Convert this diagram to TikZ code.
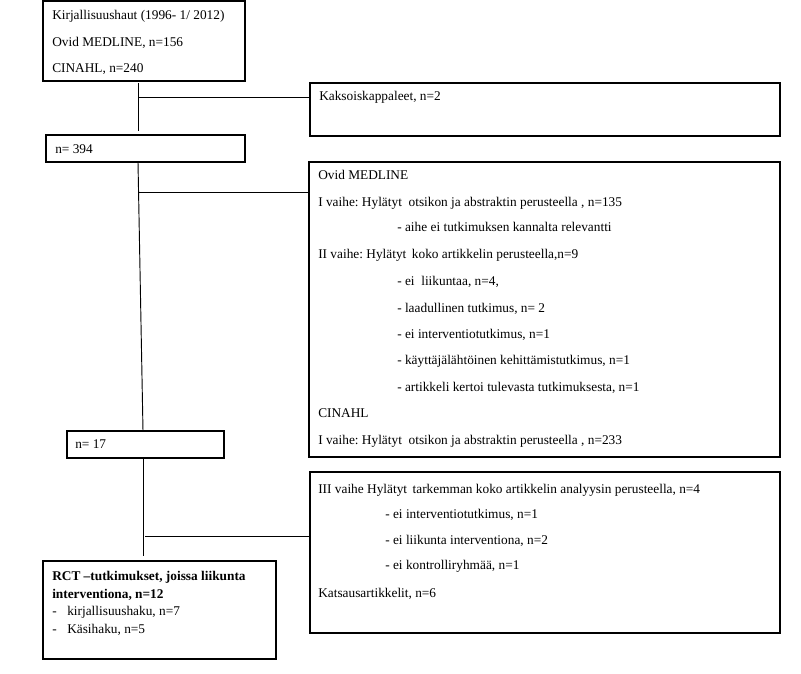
\documentclass[tikz,border=0pt]{standalone}
\usepackage{fontspec}
\setmainfont{Liberation Serif}
\frenchspacing
\begin{document}
\begin{tikzpicture}[x=0.75pt,y=-0.75pt,
  box/.style={draw, line width=0.8pt, anchor=north west, inner sep=0pt, outer sep=0pt},
  txt/.style={anchor=base west, inner sep=0pt, font=\fontsize{10}{11}\selectfont},
  bld/.style={anchor=base west, inner sep=0pt, font=\fontsize{10}{12}\selectfont\bfseries},
  ln/.style={line width=0.7pt}]
\useasboundingbox (0,0) rectangle (801,674);
% boxes
\node[box, minimum width={202*0.75pt}, minimum height={80*0.75pt}] (b1) at (43,1) {};
\node[box, minimum width={199*0.75pt}, minimum height={27*0.75pt}] (b2) at (46,135) {};
\node[box, minimum width={470*0.75pt}, minimum height={53*0.75pt}] (kaks) at (310,83) {};
\node[box, minimum width={471*0.75pt}, minimum height={295*0.75pt}] (ovid) at (309,162) {};
\node[box, minimum width={157*0.75pt}, minimum height={27*0.75pt}] (b3) at (67,431) {};
\node[box, minimum width={470*0.75pt}, minimum height={161*0.75pt}] (iii) at (310,472) {};
\node[box, minimum width={233*0.75pt}, minimum height={98*0.75pt}] (rct) at (43,561) {};
% texts box 1
\node[txt] (t11) at (52,20) {Kirjallisuushaut (1996- 1/ 2012)};
\node[txt] (t12) at (52,47) {Ovid MEDLINE, n=156};
\node[txt] (t13) at (52,73) {CINAHL, n=240};
\node[txt] (t21) at (55,154) {n= 394};
\node[txt] (tk1) at (319,101) {Kaksoiskappaleet, n=2};
% Ovid box
\node[txt] (o1) at (318,180) {Ovid MEDLINE};
\node[txt] (o2) at (318,206) {I vaihe: Hylätyt\ \ otsikon ja abstraktin perusteella , n=135};
\node[txt] (o3) at (397,232) {- aihe ei tutkimuksen kannalta relevantti};
\node[txt] (o4) at (318,258) {II vaihe: Hylätyt\, koko artikkelin perusteella,n=9};
\node[txt] (o5) at (397,285) {- ei\ \ liikuntaa, n=4,};
\node[txt] (o6) at (397,312) {- laadullinen tutkimus, n= 2};
\node[txt] (o7) at (397,338) {- ei interventiotutkimus, n=1};
\node[txt] (o8) at (397,364) {- käyttäjälähtöinen kehittämistutkimus, n=1};
\node[txt] (o9) at (397,391) {- artikkeli kertoi tulevasta tutkimuksesta, n=1};
\node[txt] (o10) at (318,417) {CINAHL};
\node[txt] (o11) at (318,444) {I vaihe: Hylätyt\ \ otsikon ja abstraktin perusteella , n=233};
% n=17
\node[txt] (t31) at (75,448) {n= 17};
% III box
\node[txt] (i1) at (318,493) {III vaihe Hylätyt\, tarkemman koko artikkelin analyysin perusteella, n=4};
\node[txt] (i2) at (385,518) {- ei interventiotutkimus, n=1};
\node[txt] (i3) at (385,544) {- ei liikunta interventiona, n=2};
\node[txt] (i4) at (385,569) {- ei kontrolliryhmää, n=1};
\node[txt] (i5) at (318,597) {Katsausartikkelit, n=6};
% RCT box
\node[bld] (r1) at (52,580) {RCT –tutkimukset, joissa liikunta};
\node[bld] (r2) at (52,598) {interventiona, n=12};
\node[txt] (r3d) at (52,615) {-};
\node[txt] (r3) at (67,615) {kirjallisuushaku, n=7};
\node[txt] (r4d) at (52,633) {-};
\node[txt] (r4) at (67,633) {Käsihaku, n=5};
% connectors
\coordinate (a1) at (138,83);
\coordinate (a2) at (138,131);
\coordinate (ab) at (138,97);
\draw[ln] (a1) -- (a2);
\draw[ln] (ab) -- (ab -| kaks.west);
\coordinate (c1) at (138,162);
\coordinate (c2) at (143,431);
\coordinate (cb) at (138.5,192);
\draw[ln] (c1) -- (c2);
\draw[ln] (cb) -- (cb -| ovid.west);
\coordinate (d1) at (143,458);
\coordinate (d2) at (143,556);
\coordinate (db) at (145,536);
\draw[ln] (d1) -- (d2);
\draw[ln] (db) -- (db -| iii.west);
\end{tikzpicture}
\end{document}
